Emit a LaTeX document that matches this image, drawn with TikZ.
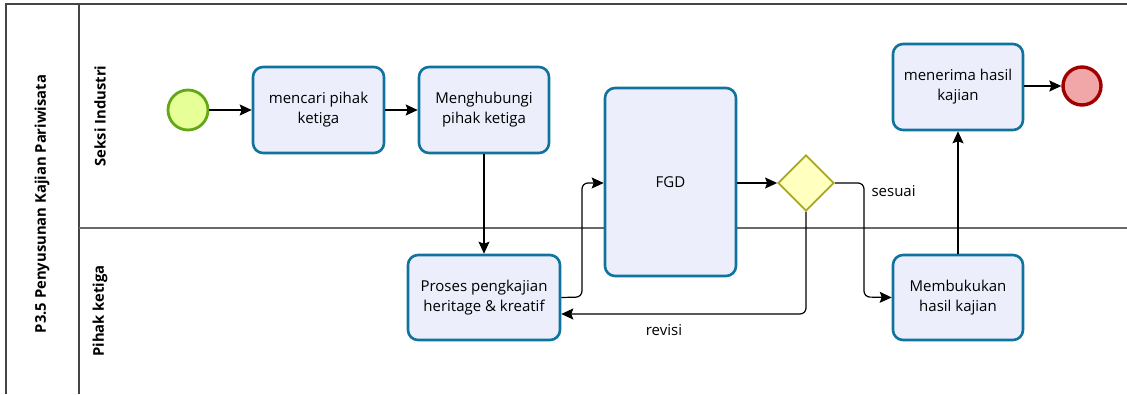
\documentclass[tikz,border=0pt]{standalone}
\usepackage{fontspec}
\setmainfont{Open Sans}
\usetikzlibrary{arrows.meta,shapes.geometric}
\definecolor{taskfill}{HTML}{ECEEFC}
\definecolor{taskdraw}{HTML}{10739E}
\definecolor{startfill}{HTML}{E6FF97}
\definecolor{startdraw}{HTML}{62A716}
\definecolor{endfill}{HTML}{F1A7A7}
\definecolor{enddraw}{HTML}{A00000}
\definecolor{gwfill}{HTML}{FFFFC0}
\definecolor{gwdraw}{HTML}{A8A820}
\definecolor{poolline}{HTML}{444444}
\begin{document}
\begin{tikzpicture}[x=1pt,y=-1pt,
  task/.style={draw=taskdraw,fill=taskfill,line width=2.6pt,rounded corners=10pt,align=center,
    font=\fontsize{15}{20}\selectfont,inner sep=0pt},
  evstart/.style={circle,draw=startdraw,fill=startfill,line width=2.8pt,minimum size=40pt,inner sep=0pt},
  evend/.style={circle,draw=enddraw,fill=endfill,line width=3.4pt,minimum size=38pt,inner sep=0pt},
  gw/.style={diamond,draw=gwdraw,fill=gwfill,line width=1.8pt,minimum width=56pt,minimum height=56pt,inner sep=0pt},
  flow/.style={draw=black,line width=1.2pt,rounded corners=6pt,-{Stealth[length=12pt,width=11pt,inset=2pt]}},
  lbl/.style={font=\fontsize{15}{18}\selectfont},
  lanelbl/.style={font=\bfseries\fontsize{14.8}{18}\selectfont,rotate=90},
  pool/.style={draw=poolline,line width=1.6pt}]
\useasboundingbox (0,0) rectangle (1127,394);
% pool
\draw[pool] (6,394) -- (6,4) -- (1127,4);
\draw[pool] (79,4) -- (79,394);
\draw[draw=poolline!80,line width=1.4pt] (79,228) -- (1127,228);
\node[lanelbl] (pooltitle) at (42,204) {P3.5 Penyusunan Kajian Pariwisata};
\node[lanelbl] (lane1) at (100,116) {Seksi Industri};
\node[lanelbl] (lane2) at (100,311) {Pihak ketiga};
% nodes
\node[evstart] (start) at (188,110) {};
\node[task,minimum width=131pt,minimum height=86pt] (t1) at (318.5,110) {mencari pihak\\ketiga};
\node[task,minimum width=130pt,minimum height=86pt] (t2) at (484,110) {Menghubungi\\pihak ketiga};
\node[task,minimum width=131pt,minimum height=188pt] (fgd) at (670.5,182) {FGD};
\node[gw] (gw) at (806,183) {};
\node[task,minimum width=130pt,minimum height=86pt] (t5) at (958,87) {menerima hasil\\kajian};
\node[evend] (end) at (1082,86) {};
\node[task,minimum width=152pt,minimum height=85pt] (t3) at (484,297.5) {Proses pengkajian\\heritage \& kreatif};
\node[task,minimum width=130pt,minimum height=85pt] (t4) at (958,297.5) {Membukukan\\hasil kajian};
% flows
\draw[flow] (start) -- (t1);
\draw[flow] (t1) -- (t2);
\draw[flow] (t2) -- (t3);
\draw[flow] (t3.east) -- (582,297) -- (582,183) -- (fgd.west |- 0,183);
\draw[flow] (fgd.east |- gw.west) -- (gw.west);
\draw[flow] (gw.east) -- (864,183) -- (864,297) -- (t4.west);
\draw[flow] (gw.south) -- (806,314) -- (t3.east |- 0,314);
\draw[flow] (t4.north) -- (t5.south);
\draw[flow] (t5.east |- end.west) -- (end.west);
\node[lbl,anchor=west] (lsesuai) at (868,191) {sesuai};
\node[lbl] (lrevisi) at (664,330) {revisi};
\end{tikzpicture}
\end{document}
